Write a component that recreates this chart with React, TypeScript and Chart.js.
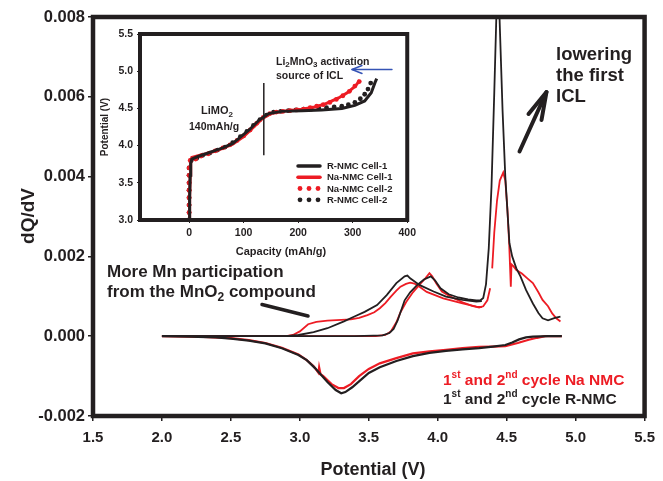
import React, { useEffect, useRef } from 'react';
import { Chart, registerables } from 'chart.js';

Chart.register(...registerables);

const BLACK = '#231f20';
const RED = '#ed1c24';
const BLUE = '#3553b5';
const FONT = '"Liberation Sans", Arial, Helvetica, sans-serif';

// ---- main chart axes ----
const mainXTicks = [1.5, 2.0, 2.5, 3.0, 3.5, 4.0, 4.5, 5.0, 5.5];
const mainYTicks = [-0.002, 0.0, 0.002, 0.004, 0.006, 0.008];

// ---- main chart series (potential V, dQ/dV) ----
const rNmcCycle1V = [2.0, 2.5, 3.0, 3.4, 3.6, 3.65, 3.68, 3.71, 3.73, 3.76, 3.8, 3.85, 3.9, 3.95, 3.98, 4.02, 4.08, 4.15, 4.22, 4.28, 4.31, 4.33, 4.35, 4.37, 4.39, 4.41, 4.425, 4.437, 4.448, 4.47, 4.49, 4.52, 4.54, 4.57, 4.6, 4.64, 4.69, 4.73, 4.76, 4.8, 4.85, 4.89];
const rNmcCycle1Q = [0, 0, 0, 0, 0.00002, 0.00008, 0.00018, 0.0004, 0.0006, 0.0009, 0.0011, 0.00128, 0.00142, 0.0015, 0.0014, 0.0012, 0.00105, 0.00097, 0.00092, 0.0009, 0.0009, 0.00096, 0.0013, 0.0022, 0.00375, 0.0061, 0.008, 0.0086, 0.008, 0.00567, 0.004, 0.00233, 0.002, 0.0017, 0.0015, 0.00116, 0.00082, 0.00058, 0.00045, 0.0004, 0.00046, 0.00049];

const rNmcCycle2V = [2.0, 2.9, 2.99, 3.1, 3.2, 3.32, 3.4, 3.47, 3.56, 3.63, 3.7, 3.76, 3.78, 3.8, 3.87, 3.97, 4.06, 4.18, 4.28, 4.32];
const rNmcCycle2Q = [0, 0, 0.00003, 0.0001, 0.0002, 0.00037, 0.0005, 0.00061, 0.00078, 0.00103, 0.00133, 0.0015, 0.00152, 0.00145, 0.00128, 0.00112, 0.00099, 0.00091, 0.00087, 0.00088];

const rNmcDischargeV = [4.9, 4.8, 4.69, 4.64, 4.59, 4.54, 4.49, 4.4, 4.3, 4.18, 4.06, 3.94, 3.82, 3.7, 3.58, 3.5, 3.44, 3.38, 3.33, 3.3, 3.26, 3.2, 3.11, 3.05, 2.99, 2.87, 2.75, 2.63, 2.5, 2.39, 2.2, 2.0];
const rNmcDischargeQ = [0, 0, -0.00001, -0.00003, -0.00008, -0.00016, -0.00022, -0.00026, -0.0003, -0.00033, -0.00037, -0.00042, -0.0005, -0.00062, -0.00078, -0.00092, -0.0011, -0.00128, -0.0014, -0.00143, -0.00135, -0.00115, -0.0008, -0.0006, -0.00047, -0.0003, -0.00018, -0.00011, -0.00006, -0.00003, -0.00001, 0];

const naNmcCycle1V = [2.0, 3.0, 3.55, 3.62, 3.66, 3.7, 3.73, 3.77, 3.82, 3.87, 3.91, 3.94, 3.96, 3.99, 4.03, 4.1, 4.18, 4.25, 4.3, 4.33, 4.36, 4.38, 4.388, 4.395, 4.41, 4.43, 4.45, 4.475, 4.49, 4.505, 4.518, 4.53, 4.535, 4.55, 4.57, 4.61, 4.65, 4.69, 4.73, 4.76, 4.8, 4.83, 4.86, 4.89];
const naNmcCycle1Q = [0, 0, 0, 0.00003, 0.00012, 0.00035, 0.0006, 0.00085, 0.0011, 0.0013, 0.00145, 0.00158, 0.0015, 0.00132, 0.00112, 0.00098, 0.00085, 0.00076, 0.00072, 0.00075, 0.0009, 0.0012, null, 0.0017, 0.0026, 0.0034, 0.0039, 0.0041, 0.0039, 0.0032, 0.00233, 0.00124, 0.0018, 0.00175, 0.00166, 0.00157, 0.00145, 0.00133, 0.0011, 0.00091, 0.00075, 0.00057, 0.00045, 0.00037];

const naNmcCycle2V = [2.0, 2.9, 2.95, 3.0, 3.06, 3.12, 3.2, 3.3, 3.37, 3.43, 3.49, 3.54, 3.58, 3.62, 3.66, 3.7, 3.73, 3.77, 3.8, 3.83, 3.85, 3.92, 4.04, 4.18, 4.28, 4.32];
const naNmcCycle2Q = [0, 0, 0.00003, 0.00012, 0.0003, 0.00036, 0.00039, 0.00041, 0.00042, 0.00046, 0.00053, 0.0006, 0.0007, 0.00083, 0.00099, 0.00114, 0.00124, 0.00131, 0.00134, 0.00132, 0.00128, 0.00111, 0.00095, 0.00082, 0.00074, 0.00073];

const naNmcDischargeV = [4.9, 4.78, 4.72, 4.66, 4.58, 4.49, 4.4, 4.3, 4.18, 4.06, 3.94, 3.82, 3.7, 3.58, 3.5, 3.43, 3.37, 3.32, 3.28, 3.23, 3.17, 3.15, 3.14, 3.135, 3.1, 3.05, 2.99, 2.87, 2.75, 2.63, 2.5, 2.3, 2.0];
const naNmcDischargeQ = [0, 0, -0.00004, -0.00009, -0.00017, -0.00025, -0.00026, -0.00027, -0.0003, -0.00034, -0.00038, -0.00043, -0.00055, -0.00068, -0.00082, -0.001, -0.0012, -0.0013, -0.0013, -0.0012, -0.001, -0.00095, -0.00078, -0.00092, -0.00075, -0.0006, -0.00046, -0.00029, -0.00017, -0.0001, -0.00005, -0.00002, 0];

// ---- inset axes ----
const insetXTicks = [0, 100, 200, 300, 400];
const insetYTicks = [3.0, 3.5, 4.0, 4.5, 5.0, 5.5];

// ---- inset series (capacity mAh/g, potential V) ----
const rCell1Cap = [0, 1, 2, 3, 5, 15, 31, 50, 62, 80, 92, 110, 128, 146, 170, 207, 243, 280, 304, 322, 334, 341, 344];
const rCell1V = [3.0, 3.3, 3.6, 3.76, 3.82, 3.85, 3.89, 3.94, 3.97, 4.03, 4.1, 4.21, 4.34, 4.43, 4.46, 4.47, 4.48, 4.5, 4.54, 4.6, 4.71, 4.85, 4.9];

const naCell1Cap = [0, 1, 2, 3, 5, 15, 31, 50, 80, 100, 120, 135, 150, 180, 207, 230, 250, 274, 290, 305, 313];
const naCell1V = [3.0, 3.3, 3.6, 3.78, 3.84, 3.86, 3.89, 3.93, 4.02, 4.12, 4.26, 4.37, 4.43, 4.47, 4.49, 4.52, 4.56, 4.64, 4.71, 4.8, 4.88];

const naCell2Cap = [0, 0, 0, 0, 0, 0, 0, 0, 2, 12, 22, 35, 48, 62, 75, 88, 100, 112, 124, 136, 148, 160, 172, 185, 198, 210, 222, 234, 246, 258, 270, 282, 294, 304, 312];
const naCell2V = [3.0, 3.1, 3.2, 3.3, 3.4, 3.5, 3.6, 3.7, 3.8, 3.82, 3.86, 3.89, 3.93, 3.97, 4.01, 4.07, 4.13, 4.21, 4.3, 4.38, 4.43, 4.45, 4.46, 4.47, 4.48, 4.49, 4.51, 4.53, 4.55, 4.58, 4.62, 4.67, 4.73, 4.8, 4.86];

const rCell2Cap = [0, 0, 0, 0, 0, 0, 0, 0, 4, 14, 25, 38, 52, 66, 80, 94, 106, 118, 130, 142, 155, 168, 182, 196, 210, 224, 238, 252, 266, 280, 292, 304, 314, 322, 328, 333];
const rCell2V = [3.0, 3.1, 3.2, 3.3, 3.4, 3.5, 3.6, 3.7, 3.8, 3.83, 3.87, 3.9, 3.94, 3.98, 4.04, 4.12, 4.19, 4.27, 4.35, 4.41, 4.45, 4.46, 4.47, 4.48, 4.49, 4.49, 4.5, 4.51, 4.52, 4.53, 4.55, 4.58, 4.63, 4.69, 4.76, 4.84];

const limo2BoundaryCap = [137, 137];
const limo2BoundaryV = [3.87, 4.84];

const insetLegend = [
  { label: 'R-NMC Cell-1', color: BLACK, dots: false },
  { label: 'Na-NMC Cell-1', color: RED, dots: false },
  { label: 'Na-NMC Cell-2', color: RED, dots: true },
  { label: 'R-NMC Cell-2', color: BLACK, dots: true },
];

const pts = (xs: number[], ys: (number | null)[]) => xs.map((x, i) => ({ x, y: ys[i] }));

type Part = [string, number, number];
function drawRich(ctx: CanvasRenderingContext2D, x: number, y: number, parts: Part[], color: string) {
  ctx.fillStyle = color;
  ctx.textAlign = 'left';
  ctx.textBaseline = 'alphabetic';
  let cx = x;
  for (const [t, size, dy] of parts) {
    ctx.font = `bold ${size}px ${FONT}`;
    ctx.fillText(t, cx, y + dy);
    cx += ctx.measureText(t).width;
  }
}

function line(ctx: CanvasRenderingContext2D, p: number[][], w: number, color: string) {
  ctx.save();
  ctx.strokeStyle = color;
  ctx.lineWidth = w;
  ctx.lineCap = 'round';
  ctx.lineJoin = 'round';
  ctx.beginPath();
  ctx.moveTo(p[0][0], p[0][1]);
  for (let i = 1; i < p.length; i++) ctx.lineTo(p[i][0], p[i][1]);
  ctx.stroke();
  ctx.restore();
}

const mainDecor = {
  id: 'mainDecor',
  afterDraw(chart: any) {
    const ctx: CanvasRenderingContext2D = chart.ctx;
    const a = chart.chartArea;
    ctx.save();
    ctx.strokeStyle = BLACK;
    ctx.lineWidth = 4.5;
    ctx.strokeRect(a.left, a.top, a.right - a.left, a.bottom - a.top);

    // axis titles
    ctx.fillStyle = BLACK;
    ctx.font = `bold 18px ${FONT}`;
    ctx.textAlign = 'center';
    ctx.textBaseline = 'middle';
    ctx.fillText('Potential (V)', 373, 470);
    ctx.save();
    ctx.translate(29, 216);
    ctx.rotate(-Math.PI / 2);
    ctx.font = `bold 19px ${FONT}`;
    ctx.fillText('dQ/dV', 0, 0);
    ctx.restore();

    // annotation: lowering the first ICL
    drawRich(ctx, 556, 59.5, [['lowering', 18.5, 0]], BLACK);
    drawRich(ctx, 556, 80.5, [['the first', 18.5, 0]], BLACK);
    drawRich(ctx, 556, 101.5, [['ICL', 18.5, 0]], BLACK);
    line(ctx, [[519.5, 151.5], [546.5, 92]], 4, BLACK);
    line(ctx, [[528.5, 114], [546.5, 92], [541.5, 120]], 4, BLACK);

    // annotation: Mn participation
    drawRich(ctx, 107, 277, [['More Mn participation', 17, 0]], BLACK);
    drawRich(ctx, 107, 297, [['from the MnO', 17, 0], ['2', 12, 4], [' compound', 17, 0]], BLACK);
    line(ctx, [[262, 304.5], [308, 316]], 3.5, BLACK);

    // legend text
    drawRich(ctx, 443, 385, [['1', 15.5, 0], ['st', 10, -7], [' and 2', 15.5, 0], ['nd', 10, -7], [' cycle Na NMC', 15.5, 0]], RED);
    drawRich(ctx, 443, 404, [['1', 15.5, 0], ['st', 10, -7], [' and 2', 15.5, 0], ['nd', 10, -7], [' cycle R-NMC', 15.5, 0]], BLACK);
    ctx.restore();
  },
};

const insetDecor = {
  id: 'insetDecor',
  afterDraw(chart: any) {
    const ctx: CanvasRenderingContext2D = chart.ctx;
    const a = chart.chartArea;
    // canvas is offset (90, 20) from page
    const ox = 90, oy = 20;
    ctx.save();
    ctx.strokeStyle = BLACK;
    ctx.lineWidth = 4;
    ctx.strokeRect(a.left, a.top, a.right - a.left, a.bottom - a.top);

    ctx.fillStyle = BLACK;
    ctx.textAlign = 'center';
    ctx.textBaseline = 'middle';
    ctx.font = `bold 11px ${FONT}`;
    ctx.fillText('Capacity (mAh/g)', 281 - ox, 252 - oy);
    ctx.save();
    ctx.translate(105 - ox, 127 - oy);
    ctx.rotate(-Math.PI / 2);
    ctx.font = `bold 10px ${FONT}`;
    ctx.fillText('Potential (V)', 0, 0);
    ctx.restore();

    drawRich(ctx, 276 - ox, 64.5 - oy, [['Li', 10.5, 0], ['2', 8, 2.5], ['MnO', 10.5, 0], ['3', 8, 2.5], [' activation', 10.5, 0]], BLACK);
    drawRich(ctx, 276 - ox, 78.5 - oy, [['source of ICL', 10.5, 0]], BLACK);
    drawRich(ctx, 201 - ox, 114 - oy, [['LiMO', 11, 0], ['2', 8, 3]], BLACK);
    drawRich(ctx, 189 - ox, 129.5 - oy, [['140mAh/g', 10.5, 0]], BLACK);

    // blue arrow
    line(ctx, [[392 - ox, 69.5 - oy], [352 - ox, 69.5 - oy]], 1.4, BLUE);
    line(ctx, [[362 - ox, 65.5 - oy], [352 - ox, 69.5 - oy], [362 - ox, 73.5 - oy]], 1.4, BLUE);

    // legend
    const rows = [166, 177.3, 188.5, 199.8];
    insetLegend.forEach((item, i) => {
      const y = rows[i] - oy;
      if (item.dots) {
        ctx.fillStyle = item.color;
        [300, 309, 318].forEach((dx) => {
          ctx.beginPath();
          ctx.arc(dx - ox, y, 2.4, 0, Math.PI * 2);
          ctx.fill();
        });
      } else {
        line(ctx, [[298 - ox, y], [320 - ox, y]], 3.5, item.color);
      }
      ctx.fillStyle = BLACK;
      ctx.font = `bold 9.5px ${FONT}`;
      ctx.textAlign = 'left';
      ctx.textBaseline = 'middle';
      ctx.fillText(item.label, 327 - ox, y + 0.5);
    });
    ctx.restore();
  },
};

function lineSet(data: any[], color: string, width: number) {
  return { data, borderColor: color, backgroundColor: color, borderWidth: width, showLine: true, pointRadius: 0, tension: 0, spanGaps: false };
}
function dotSet(data: any[], color: string) {
  return { data, borderColor: color, backgroundColor: color, borderWidth: 0, showLine: false, pointRadius: 2.4, pointStyle: 'circle' };
}

export default function App() {
  const mainRef = useRef<HTMLCanvasElement>(null);
  const insetRef = useRef<HTMLCanvasElement>(null);

  useEffect(() => {
    document.body.style.margin = '0';
    const tickFont = (size: number) => ({ family: FONT, size, weight: 'bold' as const });

    const main = new Chart(mainRef.current!, {
      type: 'scatter',
      data: {
        datasets: [
          lineSet(pts(rNmcCycle2V, rNmcCycle2Q), BLACK, 1.8),
          lineSet(pts(rNmcCycle1V, rNmcCycle1Q), BLACK, 1.8),
          lineSet(pts(rNmcDischargeV, rNmcDischargeQ), BLACK, 2.2),
          lineSet(pts(naNmcCycle2V, naNmcCycle2Q), RED, 1.8),
          lineSet(pts(naNmcCycle1V, naNmcCycle1Q), RED, 1.8),
          lineSet(pts(naNmcDischargeV, naNmcDischargeQ), RED, 2.2),
        ] as any,
      },
      options: {
        animation: false,
        responsive: false,
        events: [],
        layout: { padding: { top: 17, right: 13, left: 0, bottom: 0 } },
        plugins: { legend: { display: false }, tooltip: { enabled: false } },
        scales: {
          x: {
            type: 'linear',
            min: 1.5,
            max: 5.5,
            afterBuildTicks: (s: any) => { s.ticks = mainXTicks.map((v) => ({ value: v })); },
            afterFit: (s: any) => { s.height = 65; },
            ticks: { color: BLACK, font: tickFont(15), padding: 8, maxRotation: 0, callback: (v: any) => Number(v).toFixed(1) },
            grid: { display: true, drawOnChartArea: false, drawTicks: true, tickLength: 5, color: BLACK, lineWidth: 1.5 },
            border: { display: false },
          },
          y: {
            type: 'linear',
            min: -0.002,
            max: 0.008,
            afterBuildTicks: (s: any) => { s.ticks = mainYTicks.map((v) => ({ value: v })); },
            afterFit: (s: any) => { s.width = 93; },
            ticks: { color: BLACK, font: tickFont(16.5), padding: 3, callback: (v: any) => Number(v).toFixed(3) },
            grid: { display: true, drawOnChartArea: false, drawTicks: true, tickLength: 5, color: BLACK, lineWidth: 1.5 },
            border: { display: false },
          },
        },
      },
      plugins: [mainDecor],
    });

    const inset = new Chart(insetRef.current!, {
      type: 'scatter',
      data: {
        datasets: [
          lineSet(pts(limo2BoundaryCap, limo2BoundaryV), BLACK, 1.5),
          lineSet(pts(rCell1Cap, rCell1V), BLACK, 3),
          lineSet(pts(naCell1Cap, naCell1V), RED, 3),
          dotSet(pts(naCell2Cap, naCell2V), RED),
          dotSet(pts(rCell2Cap, rCell2V), BLACK),
        ] as any,
      },
      options: {
        animation: false,
        responsive: false,
        events: [],
        layout: { padding: { top: 14, right: 11, left: 0, bottom: 0 } },
        plugins: { legend: { display: false }, tooltip: { enabled: false } },
        scales: {
          x: {
            type: 'linear',
            min: -90,
            max: 400,
            afterBuildTicks: (s: any) => { s.ticks = insetXTicks.map((v) => ({ value: v })); },
            afterFit: (s: any) => { s.height = 45; },
            ticks: { color: BLACK, font: tickFont(10.5), padding: 4, maxRotation: 0, callback: (v: any) => String(v) },
            grid: { display: true, drawOnChartArea: false, drawTicks: true, tickLength: 3, color: BLACK, lineWidth: 1 },
            border: { display: false },
          },
          y: {
            type: 'linear',
            min: 3.0,
            max: 5.5,
            afterBuildTicks: (s: any) => { s.ticks = insetYTicks.map((v) => ({ value: v })); },
            afterFit: (s: any) => { s.width = 50; },
            ticks: { color: BLACK, font: tickFont(10.5), padding: 4, callback: (v: any) => Number(v).toFixed(1) },
            grid: { display: true, drawOnChartArea: false, drawTicks: true, tickLength: 3, color: BLACK, lineWidth: 1 },
            border: { display: false },
          },
        },
      },
      plugins: [insetDecor],
    });

    return () => {
      main.destroy();
      inset.destroy();
    };
  }, []);

  return (
    <div style={{ position: 'relative', width: 663, height: 481, background: '#fff' }}>
      <canvas ref={mainRef} width={663} height={481} style={{ position: 'absolute', left: 0, top: 0, width: 663, height: 481 }} />
      <canvas ref={insetRef} width={330} height={245} style={{ position: 'absolute', left: 90, top: 20, width: 330, height: 245 }} />
    </div>
  );
}
